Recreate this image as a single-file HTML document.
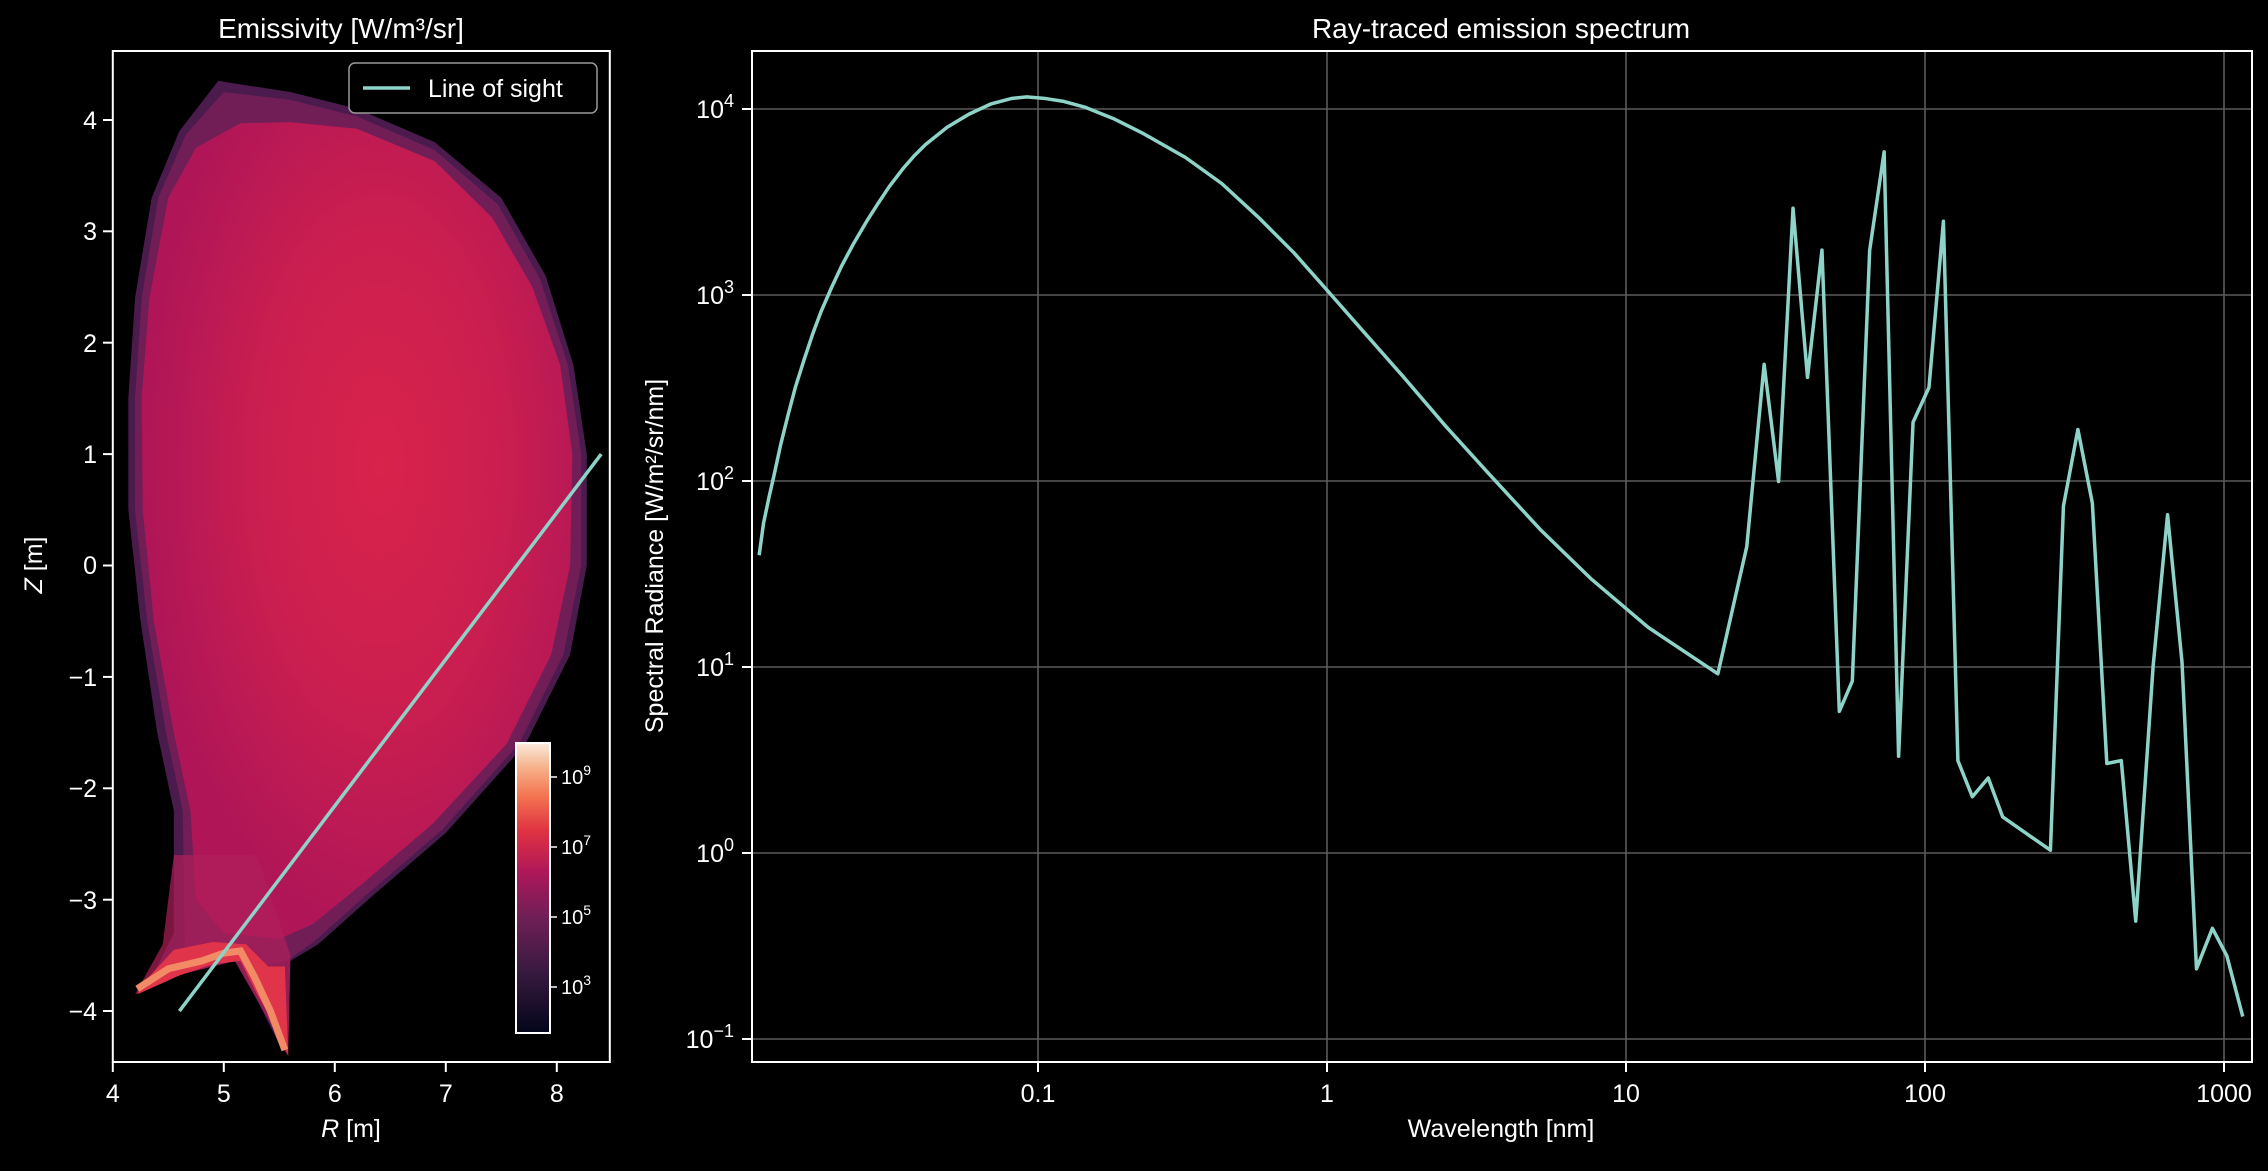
<!DOCTYPE html>
<html><head><meta charset="utf-8"><style>
html,body{margin:0;padding:0;background:#000;}
svg{display:block;font-family:"Liberation Sans",sans-serif;}
</style></head><body>
<svg width="2268" height="1171" viewBox="0 0 2268 1171" xmlns="http://www.w3.org/2000/svg">
<defs>
<radialGradient id="pl" gradientUnits="userSpaceOnUse" cx="6.4" cy="0.9" r="2.6" gradientTransform="translate(6.4 0.9) scale(0.8 1.6) translate(-6.4 -0.9)">
<stop offset="0" stop-color="#d8234b"/><stop offset="0.5" stop-color="#cc1f4f"/><stop offset="1" stop-color="#b01657"/>
</radialGradient>
<linearGradient id="cb" x1="0" y1="1" x2="0" y2="0">
<stop offset="0" stop-color="#03051a"/><stop offset="0.2" stop-color="#35193e"/><stop offset="0.4" stop-color="#701f57"/><stop offset="0.55" stop-color="#ad1759"/><stop offset="0.7" stop-color="#e13342"/><stop offset="0.82" stop-color="#f37651"/><stop offset="0.92" stop-color="#f6b48e"/><stop offset="1" stop-color="#faebdd"/>
</linearGradient>
<clipPath id="lc"><rect x="112.8" y="51" width="497" height="1011"/></clipPath>
</defs>
<rect width="2268" height="1171" fill="#000"/>

<g clip-path="url(#lc)">
<g transform="translate(112.8 565.5) scale(111 -111.4) translate(-4 0)">
<polygon fill="#4a1b4c" points="4.95,4.35 5.6,4.25 6.2,4.1 6.9,3.8 7.5,3.3 7.9,2.6 8.15,1.8 8.27,1.0 8.27,0 8.12,-0.8 7.72,-1.6 7.0,-2.4 6.3,-3.0 5.85,-3.4 5.6,-3.55 5.58,-4.4 5.5,-4.3 5.3,-3.9 5.1,-3.55 4.5,-3.7 4.2,-3.85 4.35,-3.7 4.55,-3.3 4.55,-2.2 4.4,-1.5 4.25,-0.5 4.14,0.5 4.14,1.5 4.2,2.4 4.35,3.3 4.6,3.9"/>
<polygon fill="#7a1f5a" opacity="0.8" points="5.0,4.25 5.6,4.18 6.2,4.03 6.9,3.73 7.47,3.24 7.85,2.57 8.1,1.8 8.22,1.0 8.22,0 8.06,-0.8 7.66,-1.6 6.97,-2.37 6.27,-2.97 5.82,-3.37 5.57,-3.55 5.3,-3.6 5.1,-3.5 4.65,-3.5 4.63,-2.2 4.48,-1.5 4.31,-0.5 4.2,0.5 4.2,1.5 4.26,2.4 4.41,3.3 4.66,3.87"/>
<polygon fill="url(#pl)" points="5.15,3.97 5.6,3.98 6.2,3.92 6.9,3.63 7.42,3.12 7.78,2.5 8.03,1.8 8.14,1.0 8.12,0 7.95,-0.8 7.55,-1.6 6.88,-2.32 6.22,-2.88 5.8,-3.22 5.5,-3.35 5.0,-3.3 4.75,-3.0 4.7,-2.2 4.55,-1.5 4.37,-0.5 4.27,0.5 4.26,1.5 4.33,2.4 4.5,3.3 4.75,3.75"/>
<polygon fill="#b0205a" opacity="0.7" points="4.55,-2.6 5.3,-2.6 5.6,-3.5 5.58,-4.4 5.3,-3.9 5.1,-3.55 4.5,-3.7 4.2,-3.85 4.45,-3.4"/>
<polygon fill="#e0344a" points="4.3,-3.72 4.55,-3.45 4.9,-3.38 5.2,-3.4 5.4,-3.6 5.55,-3.6 5.58,-4.4 5.45,-4.1 5.3,-3.85 5.15,-3.55 4.9,-3.58 4.6,-3.68 4.22,-3.85"/>
<polyline fill="none" stroke="#f38a66" stroke-width="7" vector-effect="non-scaling-stroke" points="4.22,-3.8 4.5,-3.62 4.8,-3.55 5.0,-3.48 5.15,-3.46 5.28,-3.7 5.42,-4.0 5.55,-4.35"/>
<line x1="4.6" y1="-4.0" x2="8.4" y2="1.0" stroke="#8dd3c7" stroke-width="3.5" vector-effect="non-scaling-stroke"/>
</g>
</g>
<rect x="112.8" y="51" width="497" height="1011" fill="none" stroke="#fff" stroke-width="2"/>
<g stroke="#fff" stroke-width="2">
<line x1="112.8" y1="1062" x2="112.8" y2="1072"/><line x1="223.8" y1="1062" x2="223.8" y2="1072"/><line x1="334.8" y1="1062" x2="334.8" y2="1072"/><line x1="445.8" y1="1062" x2="445.8" y2="1072"/><line x1="556.8" y1="1062" x2="556.8" y2="1072"/>
<line x1="103" y1="120" x2="112.8" y2="120"/><line x1="103" y1="231.3" x2="112.8" y2="231.3"/><line x1="103" y1="342.7" x2="112.8" y2="342.7"/><line x1="103" y1="454.1" x2="112.8" y2="454.1"/><line x1="103" y1="565.5" x2="112.8" y2="565.5"/><line x1="103" y1="676.9" x2="112.8" y2="676.9"/><line x1="103" y1="788.3" x2="112.8" y2="788.3"/><line x1="103" y1="899.7" x2="112.8" y2="899.7"/><line x1="103" y1="1011" x2="112.8" y2="1011"/>
</g>
<g fill="#fff" font-size="25" text-anchor="middle">
<text x="112.8" y="1102">4</text><text x="223.8" y="1102">5</text><text x="334.8" y="1102">6</text><text x="445.8" y="1102">7</text><text x="556.8" y="1102">8</text>
</g>
<g fill="#fff" font-size="25" text-anchor="end">
<text x="97" y="129">4</text><text x="97" y="240">3</text><text x="97" y="352">2</text><text x="97" y="463">1</text><text x="97" y="574">0</text><text x="97" y="686">−1</text><text x="97" y="797">−2</text><text x="97" y="909">−3</text><text x="97" y="1020">−4</text>
</g>
<text x="351" y="1137" fill="#fff" font-size="25" text-anchor="middle"><tspan font-style="italic">R</tspan> [m]</text>
<text transform="translate(42 565) rotate(-90)" fill="#fff" font-size="25" text-anchor="middle"><tspan font-style="italic">Z</tspan> [m]</text>
<text x="341" y="38" fill="#fff" font-size="28" text-anchor="middle">Emissivity [W/m³/sr]</text>
<rect x="349" y="63" width="248" height="50" rx="6" fill="#000" stroke="#999" stroke-width="1.5"/>
<line x1="363" y1="88" x2="410" y2="88" stroke="#8dd3c7" stroke-width="3.5"/>
<text x="428" y="97" fill="#fff" font-size="25">Line of sight</text>
<rect x="516" y="743" width="34" height="290" fill="url(#cb)" stroke="#fff" stroke-width="2"/>
<g stroke="#fff" stroke-width="1.5"><line x1="550" y1="777" x2="557" y2="777"/><line x1="550" y1="847" x2="557" y2="847"/><line x1="550" y1="917" x2="557" y2="917"/><line x1="550" y1="987" x2="557" y2="987"/></g>
<g fill="#fff" font-size="20"><text x="561" y="784">10<tspan dy="-9" font-size="14">9</tspan></text><text x="561" y="854">10<tspan dy="-9" font-size="14">7</tspan></text><text x="561" y="924">10<tspan dy="-9" font-size="14">5</tspan></text><text x="561" y="994">10<tspan dy="-9" font-size="14">3</tspan></text></g>

<g stroke="#5a5a5a" stroke-width="1.6">
<line x1="1038" y1="51" x2="1038" y2="1062"/><line x1="1327" y1="51" x2="1327" y2="1062"/><line x1="1626" y1="51" x2="1626" y2="1062"/><line x1="1925" y1="51" x2="1925" y2="1062"/><line x1="2224" y1="51" x2="2224" y2="1062"/>
<line x1="752" y1="109" x2="2252" y2="109"/><line x1="752" y1="295" x2="2252" y2="295"/><line x1="752" y1="481" x2="2252" y2="481"/><line x1="752" y1="667" x2="2252" y2="667"/><line x1="752" y1="853" x2="2252" y2="853"/><line x1="752" y1="1039" x2="2252" y2="1039"/>
</g>
<g transform="scale(1.446)">
<polyline fill="none" stroke="#8dd3c7" stroke-width="3.5" vector-effect="non-scaling-stroke" stroke-linejoin="round" points="525,384 528,362 532,343 535,330 540,307 545,287 550,268 556,249 562,231 568,215 575,199 582,184 590,169 600,152 607,141 615,129 625,116 632,108 640,100 655,88 670,79 685,72 700,68 710,67 722,68 735,70 750,74 770,82 790,92 820,109 845,127 870,150 895,175 918,201 940,226 970,260 1000,295 1030,328 1065,366 1100,400 1140,434 1188,466 1208,378 1220,252 1230,333 1240,144 1250,261 1260,173 1272,492 1281,471 1293,173 1303,105 1313,523 1323,292 1334,268 1344,153 1354,526 1364,551 1375,538 1385,565 1418,588 1427,350 1437,297 1447,348 1457,528 1467,526 1477,637 1489,461 1499,356 1509,458 1519,670 1530,642 1540,661 1551,703"/>
</g>
<rect x="752" y="51" width="1500" height="1011" fill="none" stroke="#fff" stroke-width="2"/>
<g stroke="#fff" stroke-width="2">
<line x1="1038" y1="1062" x2="1038" y2="1072"/><line x1="1327" y1="1062" x2="1327" y2="1072"/><line x1="1626" y1="1062" x2="1626" y2="1072"/><line x1="1925" y1="1062" x2="1925" y2="1072"/><line x1="2224" y1="1062" x2="2224" y2="1072"/>
<line x1="742" y1="109" x2="752" y2="109"/><line x1="742" y1="295" x2="752" y2="295"/><line x1="742" y1="481" x2="752" y2="481"/><line x1="742" y1="667" x2="752" y2="667"/><line x1="742" y1="853" x2="752" y2="853"/><line x1="742" y1="1039" x2="752" y2="1039"/>
</g>
<g fill="#fff" font-size="25" text-anchor="middle">
<text x="1038" y="1102">0.1</text><text x="1327" y="1102">1</text><text x="1626" y="1102">10</text><text x="1925" y="1102">100</text><text x="2224" y="1102">1000</text>
</g>
<g fill="#fff" font-size="25" text-anchor="end">
<text x="734" y="118">10<tspan dy="-11" font-size="18">4</tspan></text>
<text x="734" y="304">10<tspan dy="-11" font-size="18">3</tspan></text>
<text x="734" y="490">10<tspan dy="-11" font-size="18">2</tspan></text>
<text x="734" y="676">10<tspan dy="-11" font-size="18">1</tspan></text>
<text x="734" y="862">10<tspan dy="-11" font-size="18">0</tspan></text>
<text x="734" y="1048">10<tspan dy="-11" font-size="18">−1</tspan></text>
</g>
<text x="1501" y="1137" fill="#fff" font-size="25" text-anchor="middle">Wavelength [nm]</text>
<text transform="translate(663 556) rotate(-90)" fill="#fff" font-size="25" text-anchor="middle">Spectral Radiance [W/m²/sr/nm]</text>
<text x="1501" y="38" fill="#fff" font-size="28" text-anchor="middle">Ray-traced emission spectrum</text>
</svg>
</body></html>
